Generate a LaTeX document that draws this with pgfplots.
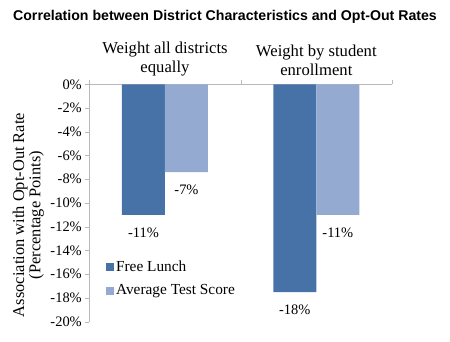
\documentclass[border=0pt]{standalone}
\usepackage{fontspec}
\setmainfont{Liberation Serif}
\newfontfamily\titlefont{Liberation Sans}
\usepackage{pgfplots}
\pgfplotsset{compat=1.18}
\definecolor{dark}{RGB}{70,114,168}
\definecolor{light}{RGB}{149,170,208}
\definecolor{axgray}{RGB}{185,185,185}
\begin{document}
\begin{tikzpicture}
\useasboundingbox (-89.3bp,-20.3bp) rectangle (360.7bp,321.7bp);
\begin{axis}[
  at={(0,0)}, anchor=south west,
  scale only axis, width=302.7bp, height=237.4bp,
  ybar, bar width=43bp, ybar=0pt,
  xmin=-0.5, xmax=1.5, ymin=-20, ymax=0,
  axis x line*=top, axis y line*=left,
  xtick={-0.5,0.5,1.5}, xticklabels={},
  ytick={-20,-18,...,0},
  yticklabel={\pgfmathprintnumber{\tick}\%},
  /pgf/number format/assume math mode=true,
  tick align=outside, major tick length=4bp,
  axis line style={axgray}, tick style={axgray},
  yticklabel style={font=\rmfamily\fontsize{14.5}{17}\selectfont, text=black},
  ylabel={Association with Opt-Out Rate\\(Percentage Points)},
  ylabel style={align=center, font=\rmfamily\fontsize{16.5}{16.5}\selectfont, at={(rel axis cs:0,0.5)}, anchor=center, yshift=61bp, xshift=-12bp},
  point meta=explicit symbolic,
  nodes near coords,
  every node near coord/.append style={font=\rmfamily\fontsize{14.5}{17}\selectfont, anchor=north, yshift=-9.5bp, text=black},
  legend style={draw=none, fill=none, at={(rel axis cs:0.045,0.275)}, anchor=north west, font=\rmfamily\fontsize{15.4}{18}\selectfont, row sep=8bp},
  legend cell align=left,
  clip=false,
]
\addplot[fill=dark, draw=none, legend image code/.code={\fill[dark] (0bp,-4bp) rectangle (8bp,4bp);}] coordinates {(0,-11.0) [-11\%] (1,-17.5) [-18\%]};
\addplot[fill=light, draw=none, legend image code/.code={\fill[light] (0bp,-4bp) rectangle (8bp,4bp);}] coordinates {(0,-7.4) [-7\%] (1,-11.0) [-11\%]};
\legend{Free Lunch, Average Test Score}
\node[align=center, anchor=south, yshift=5bp, font=\rmfamily\fontsize{16.7}{19}\selectfont] at (axis cs:0,0) {Weight all districts\\equally};
\node[align=center, anchor=south, yshift=5bp, font=\rmfamily\fontsize{16.7}{19}\selectfont] at (axis cs:1,0) {Weight by student\\enrollment};
\end{axis}
\node[font=\titlefont\bfseries\fontsize{14.2}{17}\selectfont] at (135.7bp,304.7bp) {Correlation between District Characteristics and Opt-Out Rates};
\end{tikzpicture}
\end{document}
